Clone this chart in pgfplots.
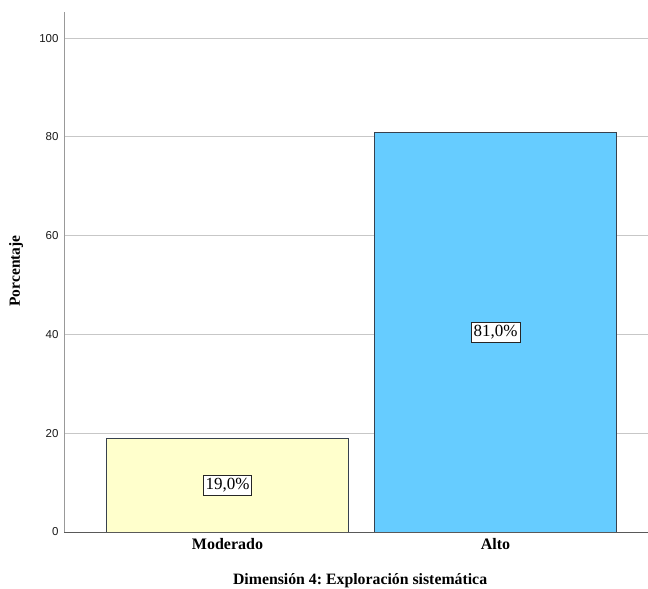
\documentclass[border=0pt]{standalone}
\usepackage{pgfplots}
\pgfplotsset{compat=1.18}
\usepackage{fontspec}
\setmainfont{Liberation Serif}
\newfontfamily\arialfont{Liberation Sans}
\definecolor{barY}{RGB}{255,255,204}
\definecolor{barB}{RGB}{102,204,255}
\definecolor{edge}{RGB}{55,65,78}
\frenchspacing
\begin{document}
\begin{tikzpicture}[x=1pt,y=1pt]
\path[use as bounding box] (0,0) rectangle (648,589);
\begin{axis}[
  at={(64pt,57pt)}, anchor=south west,
  scale only axis, width=584pt, height=520pt,
  xmin=-0.61, xmax=1.569, ymin=0, ymax=105.3,
  axis x line*=bottom, axis y line*=left,
  x axis line style={color=black!65, line width=0.9pt},
  y axis line style={color=black!40, line width=0.9pt},
  ytick={0,20,40,60,80,100},
  xtick={0,1}, xticklabels={Moderado,Alto},
  major tick length=0pt,
  ymajorgrids, grid style={color=black!22, line width=0.9pt},
  /pgf/number format/assume math mode=true,
  yticklabel style={font=\arialfont\fontsize{11.5}{13}\selectfont, xshift=-2pt, text=black!90},
  xticklabel style={font=\bfseries\fontsize{16}{18}\selectfont, yshift=-3pt},
  xlabel={Dimensión 4: Exploración sistemática},
  ylabel={Porcentaje},
  xlabel style={font=\bfseries\fontsize{15.8}{18}\selectfont, at={(axis description cs:0.507,0)}, anchor=center, yshift=-49pt},
  ylabel style={font=\bfseries\fontsize{15.5}{17}\selectfont, at={(axis description cs:-0.082,0.502)}, anchor=center, rotate=0},
]
\addplot[ybar, bar width=0.9, bar shift=0pt, fill=barY, draw=edge, line width=0.9pt] coordinates {(0,19)};
\addplot[ybar, bar width=0.9, bar shift=0pt, fill=barB, draw=edge, line width=0.9pt] coordinates {(1,81)};
\addplot[draw=none, mark=none, nodes near coords, point meta=explicit symbolic,
  every node near coord/.append style={anchor=center, draw=black!85, fill=white, line width=0.9pt, inner xsep=2.5pt, inner ysep=3pt, font=\fontsize{17}{19}\selectfont, text=black}]
  coordinates {(0,9.5) [19,0\%] (1,40.5) [81,0\%]};
\end{axis}
\end{tikzpicture}
\end{document}
